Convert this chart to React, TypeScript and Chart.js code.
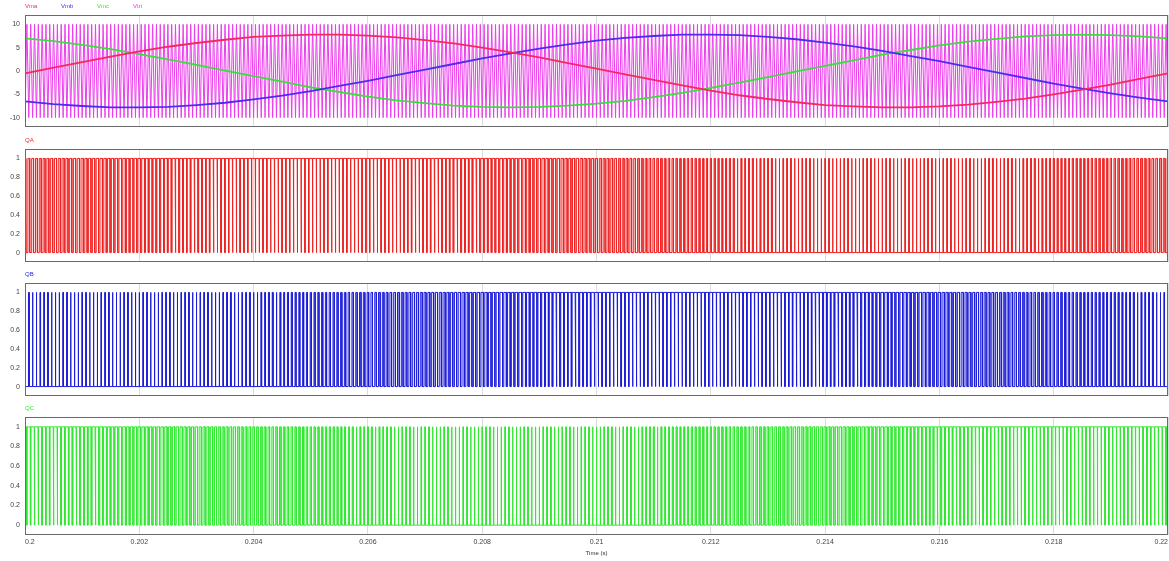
import { useEffect, useRef } from "react";
import { Chart, registerables } from "chart.js";

Chart.register(...registerables);

// ---- Data ----
const TIME = [
  0.2, 0.2005, 0.201, 0.2015, 0.202, 0.2025, 0.203, 0.2035, 0.204, 0.2045,
  0.205, 0.2055, 0.206, 0.2065, 0.207, 0.2075, 0.208, 0.2085, 0.209, 0.2095,
  0.21, 0.2105, 0.211, 0.2115, 0.212, 0.2125, 0.213, 0.2135, 0.214, 0.2145,
  0.215, 0.2155, 0.216, 0.2165, 0.217, 0.2175, 0.218, 0.2185, 0.219, 0.2195,
  0.22,
];
const VMA = [
  -0.5, 0.7, 1.9, 3.1, 4.2, 5.2, 6.0, 6.7, 7.3, 7.6, 7.8, 7.8, 7.6, 7.2, 6.6,
  5.9, 5.0, 4.0, 2.9, 1.7, 0.5, -0.7, -1.9, -3.1, -4.2, -5.2, -6.0, -6.7, -7.3,
  -7.6, -7.8, -7.8, -7.6, -7.2, -6.6, -5.9, -5.0, -4.0, -2.9, -1.7, -0.5,
];
const VMB = [
  -6.5, -7.1, -7.5, -7.8, -7.8, -7.7, -7.3, -6.8, -6.1, -5.3, -4.3, -3.2, -2.1,
  -0.9, 0.3, 1.5, 2.7, 3.8, 4.8, 5.7, 6.5, 7.1, 7.5, 7.8, 7.8, 7.7, 7.3, 6.8,
  6.1, 5.3, 4.3, 3.2, 2.1, 0.9, -0.3, -1.5, -2.7, -3.8, -4.8, -5.7, -6.5,
];
const VMC = [
  7.0, 6.4, 5.6, 4.7, 3.6, 2.5, 1.3, 0.1, -1.1, -2.3, -3.5, -4.5, -5.5, -6.3,
  -6.9, -7.4, -7.7, -7.8, -7.7, -7.4, -7.0, -6.4, -5.6, -4.7, -3.6, -2.5, -1.3,
  -0.1, 1.1, 2.3, 3.5, 4.5, 5.5, 6.3, 6.9, 7.4, 7.7, 7.8, 7.7, 7.4, 7.0,
];
const VTRI_AMPLITUDE = 10;
const CARRIER_FREQ = 15000; // Hz
const T_START = 0.2;
const T_END = 0.22;

const X_TICKS = [0.2, 0.202, 0.204, 0.206, 0.208, 0.21, 0.212, 0.214, 0.216, 0.218, 0.22];
const X_TICK_LABELS = ["0.2", "0.202", "0.204", "0.206", "0.208", "0.21", "0.212", "0.214", "0.216", "0.218", "0.22"];
const V_TICKS = [-10, -5, 0, 5, 10];
const V_TICK_LABELS = ["-10", "-5", "0", "5", "10"];
const Q_TICKS = [0, 0.2, 0.4, 0.6, 0.8, 1];
const Q_TICK_LABELS = ["0", "0.2", "0.4", "0.6", "0.8", "1"];

const SERIES_NAMES = ["Vma", "Vmb", "Vmc", "Vtri"];
const Q_NAMES = ["QA", "QB", "QC"];

// ---- Derived tables ----
function valueAt(arr: number[], t: number): number {
  if (t <= TIME[0]) return arr[0];
  for (let i = 1; i < TIME.length; i++) {
    if (t <= TIME[i]) {
      const f = (t - TIME[i - 1]) / (TIME[i] - TIME[i - 1]);
      return arr[i - 1] + f * (arr[i] - arr[i - 1]);
    }
  }
  return arr[arr.length - 1];
}

const HALF = 1 / (2 * CARRIER_FREQ);
const N_HALF = Math.round((T_END - T_START) / HALF);
const carrierVertices: { x: number; y: number }[] = [];
for (let i = 0; i <= N_HALF; i++) {
  carrierVertices.push({ x: T_START + i * HALF, y: i % 2 === 0 ? -VTRI_AMPLITUDE : VTRI_AMPLITUDE });
}

function pwmFrom(ref: number[]) {
  const pts: { x: number; y: number }[] = [{ x: T_START, y: 1 }];
  let q = 1;
  for (let i = 0; i < N_HALF; i++) {
    const t0 = carrierVertices[i].x;
    const vm = valueAt(ref, t0 + HALF / 2);
    const rising = i % 2 === 0;
    const frac = rising
      ? (vm + VTRI_AMPLITUDE) / (2 * VTRI_AMPLITUDE)
      : (VTRI_AMPLITUDE - vm) / (2 * VTRI_AMPLITUDE);
    const ts = t0 + Math.min(1, Math.max(0, frac)) * HALF;
    const nq = rising ? 0 : 1;
    pts.push({ x: ts, y: q }, { x: ts, y: nq });
    q = nq;
  }
  pts.push({ x: T_END, y: q });
  return pts;
}

const sinePts = (arr: number[]) => TIME.map((t, i) => ({ x: t, y: arr[i] }));

// ---- Styling ----
const FONT = "'Liberation Sans', Arial, sans-serif";
const TICK_COLOR = "#444";
const W = 1169;

const boxPlugin = {
  id: "box",
  afterDraw(chart: any) {
    const { ctx, chartArea: a } = chart;
    ctx.save();
    ctx.strokeStyle = "#6a6a6a";
    ctx.lineWidth = 1;
    ctx.strokeRect(Math.round(a.left) + 0.5, Math.round(a.top) + 0.5, Math.round(a.right - a.left) - 1, Math.round(a.bottom - a.top) - 1);
    ctx.restore();
  },
};

const labelPlugin = {
  id: "panelLabels",
  afterDraw(chart: any, _args: any, opts: any) {
    const { ctx, chartArea: a } = chart;
    const items: { text: string; color: string }[] = opts.items || [];
    ctx.save();
    ctx.font = `6px ${FONT}`;
    ctx.textBaseline = "middle";
    ctx.textAlign = "left";
    items.forEach((it, i) => {
      ctx.fillStyle = it.color;
      ctx.fillText(it.text, a.left + i * 36, a.top - 8.5);
    });
    ctx.restore();
  },
};

const zeroPad = (s: any) => {
  s.paddingLeft = 0;
  s.paddingRight = 0;
  s.paddingTop = 0;
  s.paddingBottom = 0;
};

function makeConfig(opts: {
  datasets: any[];
  labels: { text: string; color: string }[];
  yMin: number;
  yMax: number;
  yTicks: number[];
  yLabels: string[];
  showX: boolean;
}) {
  return {
    type: "line",
    data: { datasets: opts.datasets },
    plugins: [boxPlugin, labelPlugin],
    options: {
      responsive: false,
      animation: false,
      devicePixelRatio: 1,
      parsing: false,
      normalized: true,
      events: [],
      layout: { autoPadding: false, padding: { left: 0, right: 1, top: 15, bottom: opts.showX ? 0 : 1 } },
      elements: { point: { radius: 0 }, line: { tension: 0 } },
      plugins: {
        legend: { display: false },
        tooltip: { enabled: false },
        panelLabels: { items: opts.labels },
      },
      scales: {
        x: {
          type: "linear",
          min: T_START,
          max: T_END,
          afterBuildTicks: (s: any) => {
            s.ticks = X_TICKS.map((v) => ({ value: v }));
          },
          afterFit: (s: any) => {
            s.height = opts.showX ? 26 : 0;
            zeroPad(s);
          },
          grid: { color: "#dcdcdc", lineWidth: 1, drawTicks: false },
          border: { display: false },
          ticks: {
            display: opts.showX,
            align: "inner",
            padding: 3,
            maxRotation: 0,
            autoSkip: false,
            color: TICK_COLOR,
            font: { family: FONT, size: 7 },
            callback: (_v: any, i: number) => X_TICK_LABELS[i],
          },
          title: {
            display: opts.showX,
            text: "Time (s)",
            color: "#333",
            font: { family: FONT, size: 6 },
            padding: { top: 0, bottom: 4 },
          },
        },
        y: {
          type: "linear",
          min: opts.yMin,
          max: opts.yMax,
          afterBuildTicks: (s: any) => {
            s.ticks = opts.yTicks.map((v) => ({ value: v }));
          },
          afterFit: (s: any) => {
            s.width = 25;
            zeroPad(s);
          },
          grid: { display: false, drawTicks: false },
          border: { display: false },
          ticks: {
            padding: 5,
            color: TICK_COLOR,
            font: { family: FONT, size: 7 },
            callback: (_v: any, i: number) => opts.yLabels[i],
          },
        },
      },
    },
  };
}

const COLORS = {
  Vma: "#f5285f",
  Vmb: "#4b2cf0",
  Vmc: "#3ddc3d",
  Vtri: "#ec3cec",
  QA: "#ee2222",
  QB: "#1c1cd8",
  QC: "#30e830",
};

function line(label: string, data: any[], color: string, width: number) {
  return { label, data, borderColor: color, borderWidth: width, pointRadius: 0, fill: false };
}

const refs = [VMA, VMB, VMC];
const qColors = [COLORS.QA, COLORS.QB, COLORS.QC];

const PANELS = [
  {
    top: 0,
    height: 128,
    config: makeConfig({
      datasets: [
        line(SERIES_NAMES[0], sinePts(VMA), COLORS.Vma, 1.8),
        line(SERIES_NAMES[1], sinePts(VMB), COLORS.Vmb, 1.8),
        line(SERIES_NAMES[2], sinePts(VMC), COLORS.Vmc, 1.8),
        line(SERIES_NAMES[3], carrierVertices, COLORS.Vtri, 1),
      ],
      labels: [
        { text: SERIES_NAMES[0], color: COLORS.Vma },
        { text: SERIES_NAMES[1], color: COLORS.Vmb },
        { text: SERIES_NAMES[2], color: COLORS.Vmc },
        { text: SERIES_NAMES[3], color: COLORS.Vtri },
      ],
      yMin: -12,
      yMax: 12,
      yTicks: V_TICKS,
      yLabels: V_TICK_LABELS,
      showX: false,
    }),
  },
  ...[0, 1, 2].map((k) => ({
    top: [134, 268, 402][k],
    height: [129, 129, 159][k],
    config: makeConfig({
      datasets: [line(Q_NAMES[k], pwmFrom(refs[k]), qColors[k], 1)],
      labels: [{ text: Q_NAMES[k], color: qColors[k] }],
      yMin: -0.1,
      yMax: 1.1,
      yTicks: Q_TICKS,
      yLabels: Q_TICK_LABELS,
      showX: k === 2,
    }),
  })),
];

function Panel({ config, top, height }: { config: any; top: number; height: number }) {
  const ref = useRef<HTMLCanvasElement>(null);
  useEffect(() => {
    const chart = new Chart(ref.current as HTMLCanvasElement, config);
    return () => chart.destroy();
  }, [config]);
  return (
    <div style={{ position: "absolute", left: 0, top, width: W, height }}>
      <canvas ref={ref} width={W} height={height} style={{ display: "block", width: W, height }} />
    </div>
  );
}

export default function App() {
  return (
    <div style={{ position: "fixed", left: 0, top: 0, width: W, height: 561, background: "#fff", overflow: "hidden" }}>
      {PANELS.map((p, i) => (
        <Panel key={i} config={p.config} top={p.top} height={p.height} />
      ))}
    </div>
  );
}
